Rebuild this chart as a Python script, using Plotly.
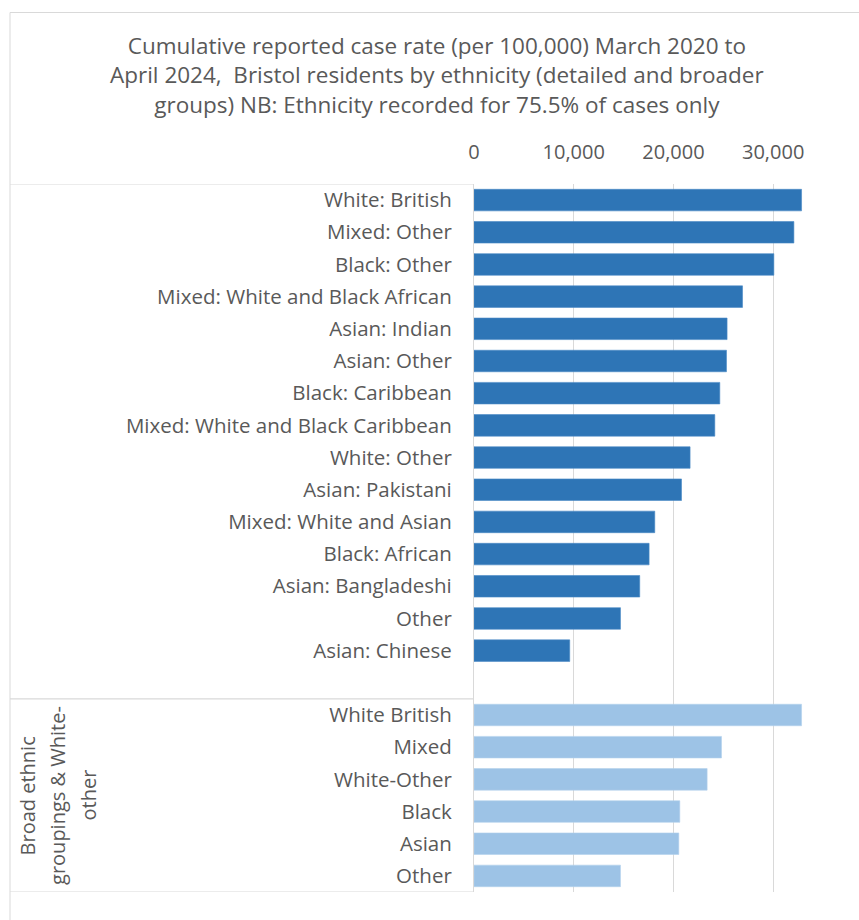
import plotly.graph_objects as go

# Cumulative reported case rate per 100,000, Bristol residents
detailed_labels = [
    "White: British", "Mixed: Other", "Black: Other",
    "Mixed: White and Black African", "Asian: Indian", "Asian: Other",
    "Black: Caribbean", "Mixed: White and Black Caribbean", "White: Other",
    "Asian: Pakistani", "Mixed: White and Asian", "Black: African",
    "Asian: Bangladeshi", "Other", "Asian: Chinese",
]
detailed_rates = [
    32850, 32080, 30070, 26930, 25380, 25320, 24650, 24150, 21670,
    20810, 18130, 17560, 16620, 14690, 9600,
]

broad_labels = ["White British", "Mixed", "White-Other", "Black", "Asian", "Other"]
broad_rates = [32850, 24820, 23380, 20640, 20540, 14690]

broad_group_lines = ["Broad ethnic", "groupings & White-", "other"]

tick_values = [0, 10000, 20000, 30000]
tick_labels = ["0", "10,000", "20,000", "30,000"]

TITLE = ("Cumulative reported case rate (per 100,000) March 2020 to<br>"
         "April 2024,  Bristol residents by ethnicity (detailed and broader<br>"
         "groups) NB: Ethnicity recorded for 75.5% of cases only")

# Row positions: detailed group, one empty row, then the broad group
detailed_pos = list(range(len(detailed_labels)))
blank_pos = len(detailed_labels)
broad_pos = [blank_pos + 1 + i for i in range(len(broad_labels))]
n_rows = broad_pos[-1] + 1

W, H = 859, 920
ML, MR, MT, MB = 474, 36, 184, 28
PW, PH = W - ML - MR, H - MT - MB

TEXT = "#595959"
GRID = "#d9d9d9"
FONT = "Open Sans"


def px_x(px):
    return (px - ML) / PW


def px_y(py):
    return (H - MB - py) / PH


fig = go.Figure()
fig.add_trace(go.Bar(
    x=detailed_rates, y=detailed_pos, orientation="h",
    marker=dict(color="#2E75B6", line=dict(color="#4A8AC6", width=0.6)),
    name="Detailed", showlegend=False,
))
fig.add_trace(go.Bar(
    x=broad_rates, y=broad_pos, orientation="h",
    marker=dict(color="#9DC3E6", line=dict(color="#B3D1EC", width=0.6)),
    name="Broad", showlegend=False,
))

shapes = []
# outer chart frame
shapes.append(dict(type="rect", xref="paper", yref="paper",
                   x0=px_x(10), x1=px_x(W + 20), y0=px_y(12.5), y1=px_y(H + 20),
                   line=dict(color=GRID, width=1), fillcolor="rgba(0,0,0,0)", layer="below"))
# category-group dividers across the label column
for yv in (-0.5, blank_pos + 0.5, n_rows - 0.5):
    shapes.append(dict(type="line", xref="paper", yref="y",
                       x0=px_x(10), x1=0, y0=yv, y1=yv,
                       line=dict(color=GRID, width=1.2)))

annotations = [dict(
    text=TITLE, xref="paper", yref="paper", x=px_x(437), y=px_y(75),
    xanchor="center", yanchor="middle", showarrow=False,
    font=dict(family=FONT, size=22.5, color=TEXT),
)]
group_mid = (broad_pos[0] + broad_pos[-1]) / 2
for i, line in enumerate(broad_group_lines):
    annotations.append(dict(
        text=line, xref="paper", yref="y", x=px_x(27 + 30.5 * i), y=group_mid,
        xanchor="center", yanchor="middle", textangle=-90, showarrow=False,
        font=dict(family=FONT, size=20, color=TEXT),
    ))

fig.update_layout(
    width=W, height=H,
    margin=dict(l=ML, r=MR, t=MT, b=MB),
    paper_bgcolor="white", plot_bgcolor="white",
    barmode="overlay", bargap=0.33,
    font=dict(family=FONT, size=20, color=TEXT),
    shapes=shapes, annotations=annotations,
    xaxis=dict(
        side="top", range=[0, 35000], tickvals=tick_values, ticktext=tick_labels,
        showgrid=True, gridcolor=GRID, gridwidth=1.2, zeroline=False,
        showline=False, ticks="", ticklabelstandoff=20,
        tickfont=dict(family=FONT, size=20, color=TEXT),
    ),
    yaxis=dict(
        range=[n_rows - 0.5, -0.5],
        tickvals=detailed_pos + broad_pos, ticktext=detailed_labels + broad_labels,
        showgrid=False, zeroline=False, showline=True, linecolor=GRID, linewidth=1.2,
        ticks="", ticklabelstandoff=17,
        tickfont=dict(family=FONT, size=20.5, color=TEXT),
    ),
)

fig.write_html("out.html")
